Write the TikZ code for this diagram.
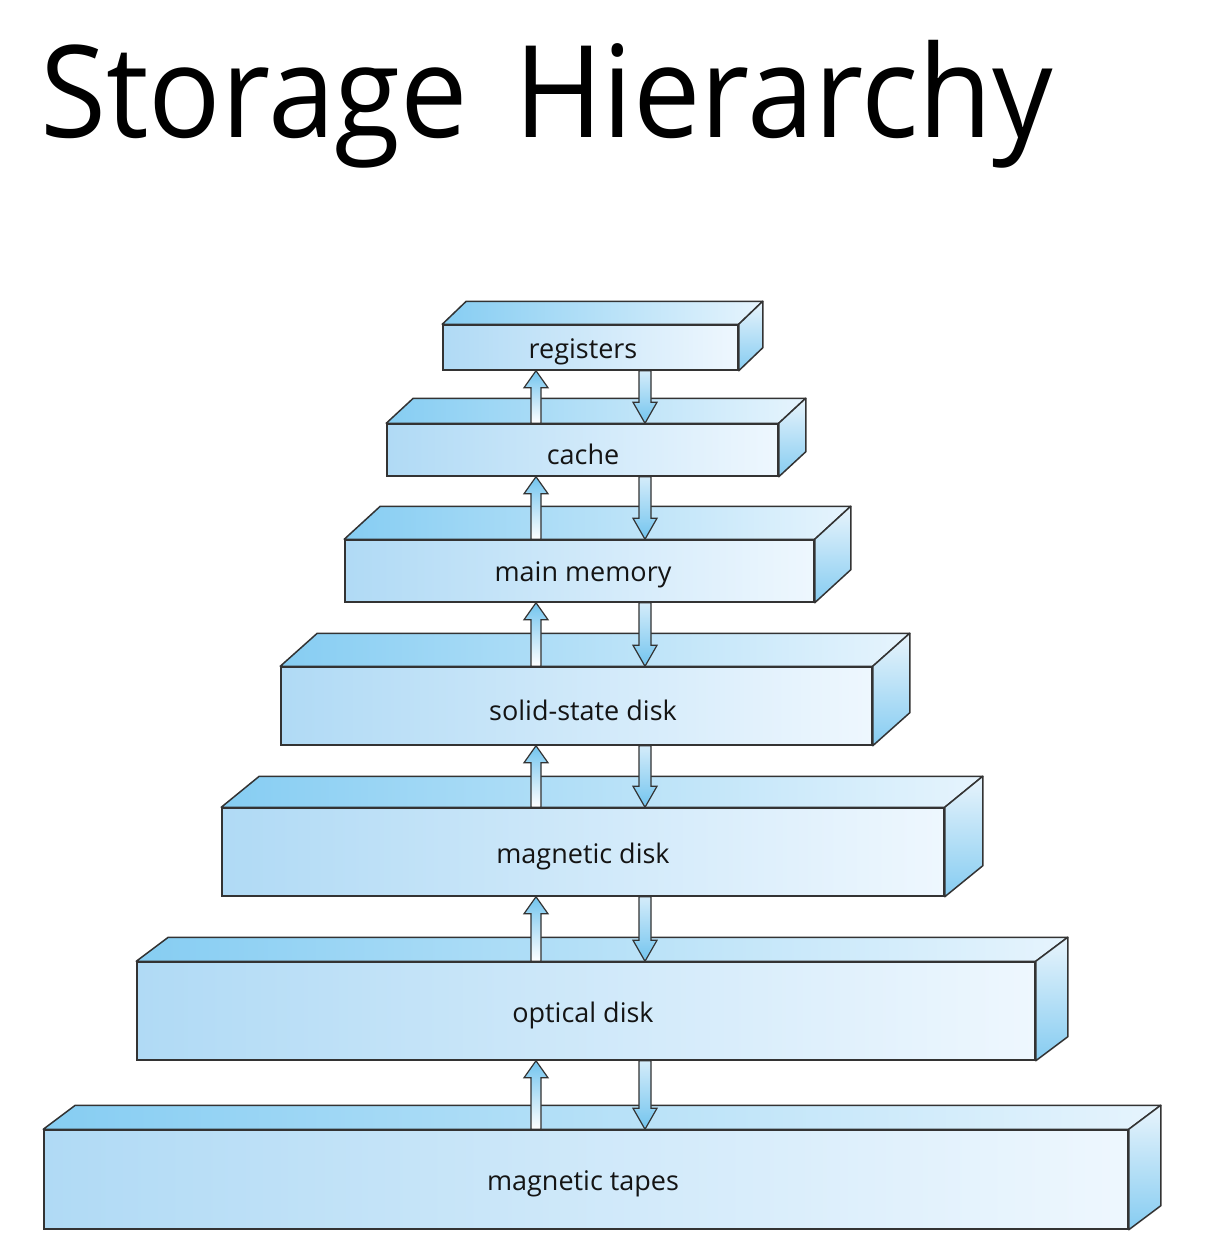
\documentclass[tikz,border=0pt]{standalone}
\usepackage{fontspec}
\setmainfont{Open Sans}
\usetikzlibrary{calc}
\definecolor{frontL}{HTML}{B0DAF5}
\definecolor{frontR}{HTML}{EEF7FE}
\definecolor{topL}{HTML}{86CDF2}
\definecolor{topR}{HTML}{E6F4FD}
\definecolor{sideT}{HTML}{E8F4FC}
\definecolor{sideB}{HTML}{86CCF1}
\definecolor{edge}{HTML}{333333}
\definecolor{arrblue}{HTML}{72C4EE}
\definecolor{arrlight}{HTML}{D4ECFA}
\tikzset{
  front/.style={draw=edge, line width=1.5pt, left color=frontL, right color=frontR, inner sep=0pt, shape=rectangle},
  topface/.style={draw=edge, line width=1.5pt, left color=topL, right color=topR, line join=round},
  sideface/.style={draw=edge, line width=1.5pt, top color=sideT, bottom color=sideB, line join=round},
  lbl/.style={font=\fontsize{27}{30}\selectfont, text=black!92, inner sep=0pt},
  uparrow/.style={draw=edge, line width=1.2pt, top color=arrblue, bottom color=white, line join=miter},
  downarrow/.style={draw=edge, line width=1.2pt, top color=arrlight, bottom color=arrblue, line join=miter},
}
\newcommand\stlayer[8]{% name, cx, cy, w, h, dx, dy, text
  \node[front, minimum width=#4pt, minimum height=#5pt] (#1) at (#2,#3) {};
  \path[topface] (#1.north west) -- ++(#6,#7) -- ($(#1.north east)+(#6,#7)$) -- (#1.north east) -- cycle;
  \path[sideface] (#1.north east) -- ++(#6,#7) -- ($(#1.south east)+(#6,#7)$) -- (#1.south east) -- cycle;
  \node[lbl] (#1-text) at (583,#3+4) {#8};
}
\newcommand\stlinks[2]{% upper, lower
  \path (#2.north -| ux) coordinate (#1-#2-ub) (#1.south -| ux) coordinate (#1-#2-ut);
  \path[uparrow] ($(#1-#2-ub)+(-5,0)$) -- ($(#1-#2-ut)+(-5,17)$) -- ($(#1-#2-ut)+(-12,17)$) -- (#1-#2-ut)
     -- ($(#1-#2-ut)+(12,17)$) -- ($(#1-#2-ut)+(5,17)$) -- ($(#1-#2-ub)+(5,0)$) -- cycle;
  \path (#1.south -| dx) coordinate (#1-#2-dt) (#2.north -| dx) coordinate (#1-#2-db);
  \path[downarrow] ($(#1-#2-dt)+(-6,0)$) -- ($(#1-#2-db)+(-6,-21)$) -- ($(#1-#2-db)+(-12,-21)$) -- (#1-#2-db)
     -- ($(#1-#2-db)+(12,-21)$) -- ($(#1-#2-db)+(6,-21)$) -- ($(#1-#2-dt)+(6,0)$) -- cycle;
}
\begin{document}
\begin{tikzpicture}[x=1pt,y=-1pt]
\useasboundingbox (0,0) rectangle (1216,1258);
\fill[white] (0,0) rectangle (1216,1258);
\coordinate (ux) at (536,0);
\coordinate (dx) at (645,0);
\node[anchor=base west, inner sep=0pt, xscale=0.94, font=\fontsize{128}{140}\selectfont] (title) at (40,137) {Storage\hspace{0.12em} Hierarchy};
\stlayer{reg}{590.5}{347.5}{295}{45}{24}{-23}{registers}
\stlayer{cache}{582.5}{450}{391}{52}{27}{-25}{cache}
\stlayer{main}{579.5}{571}{469}{62}{36}{-33}{main memory}
\stlayer{ssd}{576.5}{706}{591}{78}{37}{-33}{solid-state disk}
\stlayer{magd}{583}{852}{722}{88}{38}{-31}{magnetic disk}
\stlayer{opt}{586}{1011}{898}{98}{32}{-24}{optical disk}
\stlayer{tape}{586}{1179.5}{1084}{99}{32}{-24}{magnetic tapes}
\stlinks{reg}{cache}
\stlinks{cache}{main}
\stlinks{main}{ssd}
\stlinks{ssd}{magd}
\stlinks{magd}{opt}
\stlinks{opt}{tape}
\end{tikzpicture}
\end{document}
